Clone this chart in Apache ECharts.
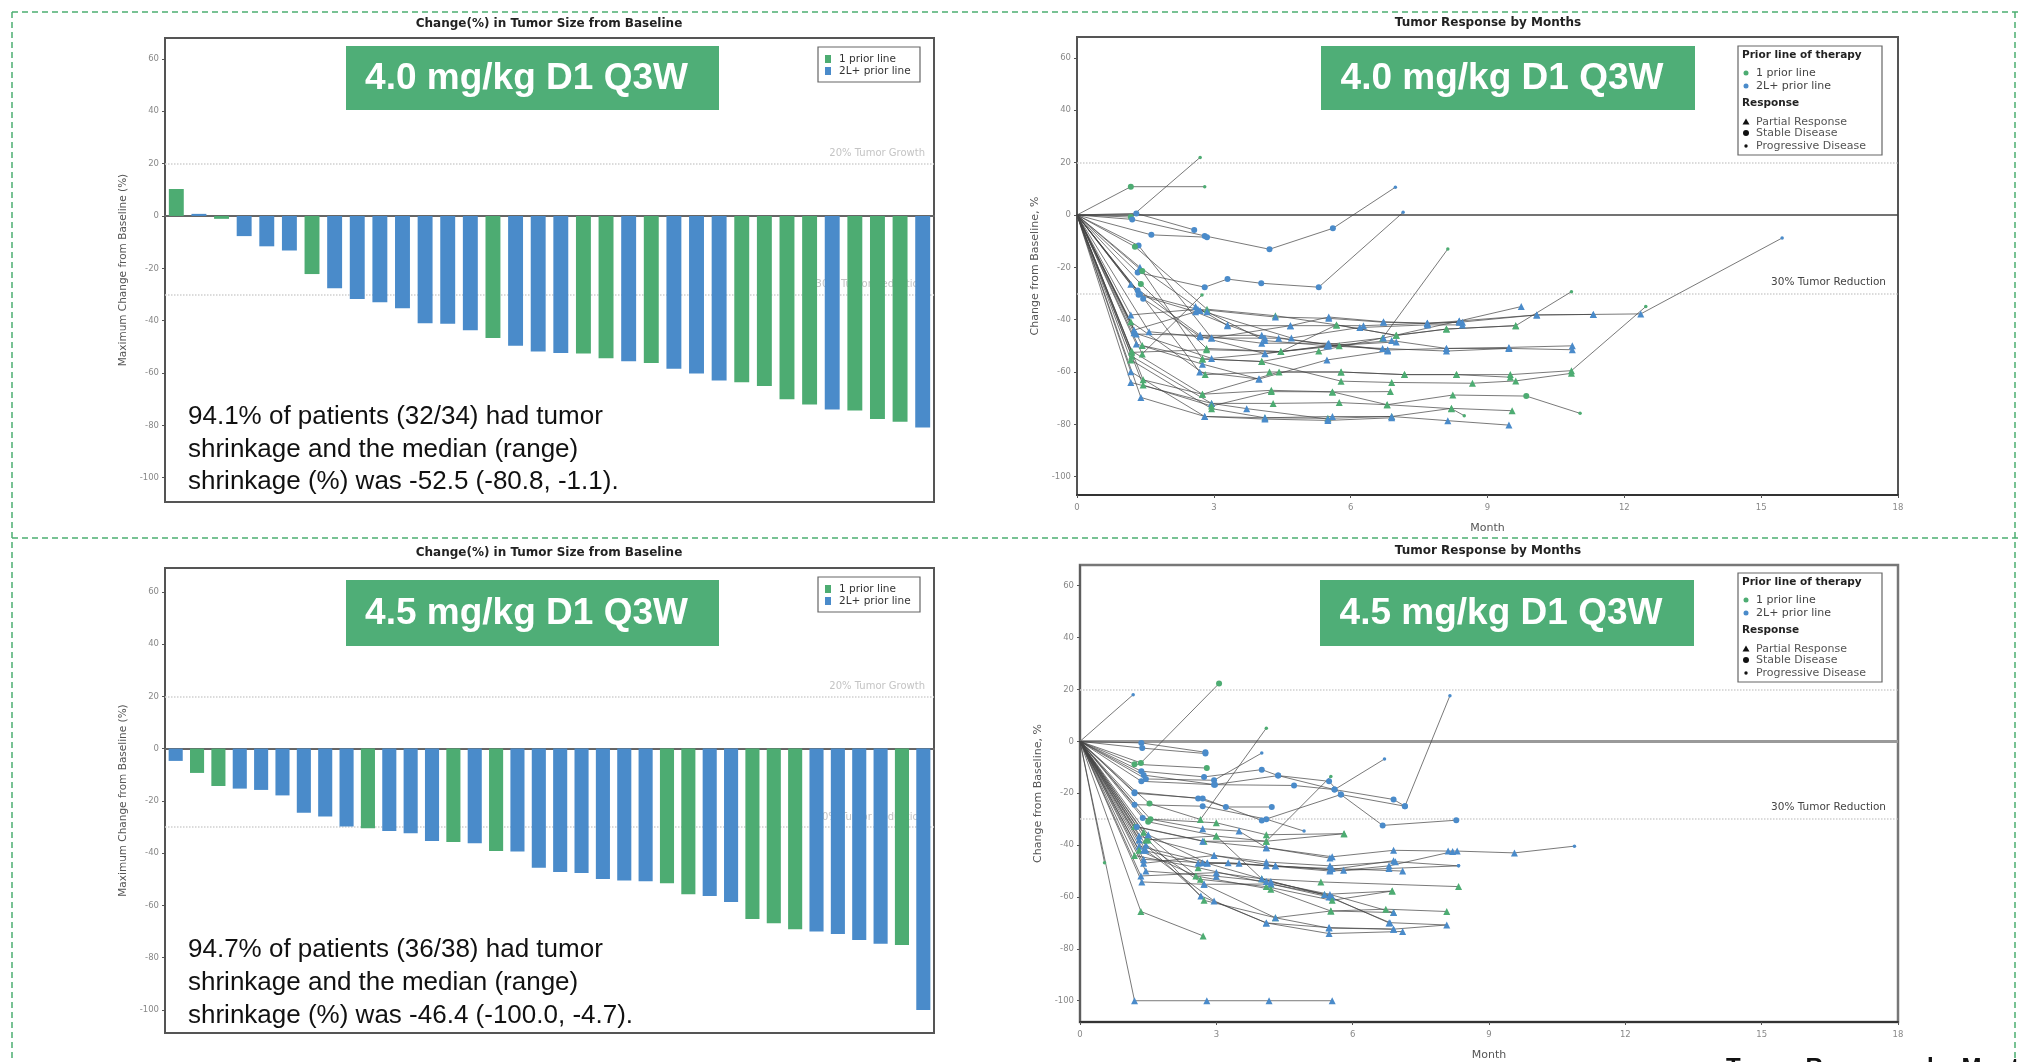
<!DOCTYPE html>
<html><head><meta charset="utf-8">
<script src="https://cdn.jsdelivr.net/npm/echarts/dist/echarts.min.js"></script>
<style>html,body{margin:0;padding:0;background:#fff}#c{width:2018px;height:1062px}</style>
</head><body><div id="c"></div>
<script>
// ---------- DATA ----------
const yTicks = [-100, -80, -60, -40, -20, 0, 20, 40, 60];
const monthTicks = [0, 3, 6, 9, 12, 15, 18];

// Waterfall, 4.0 mg/kg (34 patients)
const topBarValues = [10.3, 0.8, -1.1, -7.7, -11.6, -13.2, -22.2, -27.6, -31.7, -33.0, -35.3, -41.0, -41.2, -43.7, -46.6, -49.6, -51.8, -52.4, -52.6, -54.4, -55.5, -56.2, -58.4, -60.2, -62.9, -63.5, -65.0, -70.0, -72.0, -74.0, -74.3, -77.6, -78.6, -80.8];
const topBarLines = ['G','B','G','B','B','B','G','B','B','B','B','B','B','B','G','B','B','B','G','G','B','G','B','B','B','G','G','G','G','B','G','G','G','B'];

// Waterfall, 4.5 mg/kg (36 bars)
const botBarValues = [-4.7, -9.3, -14.3, -15.3, -15.8, -17.9, -24.5, -26.0, -29.8, -30.5, -31.5, -32.4, -35.3, -35.7, -36.2, -39.2, -39.4, -45.6, -47.2, -47.6, -49.9, -50.5, -50.7, -51.5, -55.7, -56.4, -58.7, -65.2, -66.8, -69.1, -70.0, -70.9, -73.2, -74.7, -75.1, -100.0];
const botBarLines = ['B','G','G','B','B','B','B','B','B','G','B','B','B','G','B','G','B','B','B','B','B','B','B','G','G','B','B','G','G','G','B','B','B','B','G','B'];

// Spider plots: [prior line, [[month, change %, response]]]  t=PR c=SD d=PD o=no marker
const spiderTop = [
 ['G', [[1.18,10.8,'c'],[2.8,10.8,'d']]],
 ['G', [[1.18,-0.8,'c'],[2.7,22,'d']]],
 ['B', [[1.21,-1.7,'c'],[2.8,-8,'c'],[4.22,-13.1,'c'],[5.61,-5.1,'c'],[6.98,10.6,'d']]],
 ['B', [[1.3,0.6,'c'],[2.57,-5.7,'c']]],
 ['B', [[1.63,-7.6,'c'],[2.85,-8.5,'c']]],
 ['B', [[1.35,-11.7,'c'],[2.95,-47,'t'],[4.42,-47.1,'t'],[5.5,-49.5,'t'],[6.81,-51.6,'t'],[8.1,-51,'t'],[9.47,-50.6,'t'],[10.86,-50,'t']]],
 ['G', [[1.27,-12.1,'c'],[2.85,-36,'t'],[4.35,-38.5,'t'],[5.69,-42,'t'],[7.0,-46,'t'],[8.1,-43.6,'t'],[9.62,-42.3,'t'],[10.84,-29.3,'d']]],
 ['B', [[1.38,-20,'t'],[2.6,-35,'t'],[3.3,-42.3,'t'],[4.68,-42.3,'t'],[5.52,-39,'t'],[6.72,-40.8,'t'],[7.68,-41.4,'t'],[8.38,-40.5,'t'],[9.74,-35,'t']]],
 ['B', [[1.33,-22,'c'],[2.8,-27.6,'c'],[3.3,-24.5,'c'],[4.04,-26.1,'c'],[5.3,-27.6,'c'],[7.15,1,'d']]],
 ['G', [[1.43,-21.4,'c'],[2.75,-55,'t'],[4.05,-56,'t'],[5.3,-52,'t'],[6.7,-47,'t'],[8.13,-13,'d']]],
 ['B', [[1.18,-26.5,'t'],[2.7,-46,'t'],[4.05,-46,'t'],[5.5,-49.5,'t'],[6.72,-47,'t'],[8.38,-40.5,'t'],[10.08,-38.2,'t'],[11.32,-38,'t'],[12.36,-37.8,'t'],[15.46,-8.8,'d']]],
 ['G', [[1.4,-26.4,'c'],[2.84,-51,'t'],[4.47,-52.2,'t'],[5.75,-50,'t']]],
 ['B', [[1.33,-28.9,'c'],[2.69,-60,'t'],[3.99,-62.7,'t'],[5.48,-55.4,'t'],[6.81,-52,'t']]],
 ['B', [[1.38,-30.3,'c'],[2.85,-37,'t'],[4.12,-48,'t'],[5.5,-50,'t'],[6.9,-48,'t'],[8.1,-51,'t'],[9.47,-51,'t'],[10.86,-51.5,'t']]],
 ['B', [[1.45,-32,'c'],[2.7,-46.5,'t'],[4.12,-53,'t'],[5.52,-50,'t'],[7.0,-48.5,'t']]],
 ['B', [[1.18,-38.2,'t'],[2.65,-36,'t'],[4.35,-39,'t'],[5.52,-39.5,'t'],[6.72,-41,'t'],[7.68,-41.4,'t'],[8.38,-41,'t'],[10.08,-38.2,'t'],[11.32,-38,'t']]],
 ['G', [[1.18,-40.8,'t'],[2.81,-61,'t'],[4.22,-60,'t'],[5.79,-60,'t'],[7.18,-61,'t'],[8.32,-61,'t'],[9.5,-61,'t'],[10.84,-59.5,'t'],[12.47,-35,'d']]],
 ['B', [[1.25,-45,'t'],[2.95,-54.8,'t'],[4.12,-52.9,'t'],[5.48,-50,'t'],[6.7,-51,'t'],[8.1,-52,'t'],[9.47,-51,'t']]],
 ['B', [[1.3,-45.5,'t'],[2.7,-46,'t'],[4.05,-49,'t'],[5.52,-49,'t'],[6.81,-51.6,'t']]],
 ['B', [[1.58,-44.6,'t'],[2.95,-47,'t'],[4.68,-42.3,'t'],[6.28,-42.3,'t'],[7.68,-41.4,'t'],[8.45,-41,'t']]],
 ['B', [[1.3,-49.3,'t'],[2.75,-57,'t'],[3.99,-62.7,'t']]],
 ['G', [[1.43,-49.9,'t'],[2.75,-55,'t'],[4.05,-56,'t'],[5.79,-63.5,'t'],[6.9,-64,'t'],[8.67,-64.3,'t'],[9.62,-63.4,'t'],[10.84,-60.5,'t']]],
 ['G', [[1.2,-52,'t'],[2.75,-68.5,'t'],[4.26,-67,'t'],[5.6,-67.6,'t'],[6.87,-67.5,'t']]],
 ['G', [[1.2,-54,'t'],[2.95,-72,'t'],[4.3,-72,'t'],[5.75,-71.7,'t'],[6.8,-72.5,'t'],[8.24,-68.8,'t'],[9.85,-69.2,'c'],[11.03,-75.8,'d']]],
 ['G', [[1.18,-55.4,'t'],[2.95,-74,'t'],[4.12,-77.5,'t'],[5.5,-77.7,'t'],[6.9,-77,'t'],[8.21,-73.9,'t'],[9.54,-74.8,'t']]],
 ['B', [[1.18,-59.9,'t'],[2.8,-77,'t'],[4.12,-77.5,'t'],[5.6,-77,'t'],[6.9,-77,'t'],[8.13,-78.6,'t'],[9.47,-80.3,'t']]],
 ['B', [[1.18,-64,'t'],[2.95,-72,'t'],[3.72,-74,'t'],[5.5,-78,'t']]],
 ['G', [[1.45,-63,'t'],[2.75,-68.5,'t'],[4.43,-60,'t'],[5.79,-60,'t'],[7.18,-61,'t'],[8.32,-61,'t'],[9.5,-62,'t']]],
 ['G', [[1.45,-65,'t'],[2.95,-73,'t'],[4.26,-67.5,'t'],[5.6,-67.6,'t'],[6.8,-72.5,'t'],[8.21,-74,'t'],[8.49,-76.7,'d']]],
 ['B', [[1.4,-69.7,'t'],[2.8,-77,'t'],[4.12,-78,'t'],[5.5,-78.5,'t'],[6.9,-77.5,'t']]],
 ['G', [[1.43,-53.1,'t'],[2.74,-30.6,'d']]],
 ['G', [[1.2,-52.5,'t'],[2.84,-51.5,'t'],[4.47,-52.2,'t'],[5.69,-42,'t'],[7.0,-46,'t'],[8.1,-43.6,'t'],[9.62,-42.3,'t']]],
 ['B', [[1.25,-44,'t'],[2.7,-36.5,'t'],[4.7,-47,'t'],[6.2,-43,'t'],[7.68,-42,'t'],[8.45,-42,'t']]],
 ['B', [[1.35,-30.5,'c'],[2.6,-37,'t'],[3.3,-42,'t'],[4.12,-47,'t']]]
];

const spiderBottom = [
 ['B', [[1.2,-100,'t'],[2.79,-100,'t'],[4.16,-100,'t'],[5.55,-100,'t']]],
 ['G', [[0.54,-46.8,'d']]],
 ['B', [[1.17,18,'d']]],
 ['G', [[1.34,-8.3,'c'],[3.06,22.3,'c']]],
 ['B', [[1.35,-0.6,'c'],[2.76,-4.2,'c']]],
 ['B', [[1.37,-2.6,'c'],[2.76,-4.7,'c']]],
 ['G', [[1.2,-8.8,'c'],[2.79,-10.3,'c']]],
 ['B', [[1.35,-11.5,'c'],[2.73,-13.7,'c'],[4.0,-10.9,'c'],[4.36,-13.2,'c'],[5.48,-15.4,'c'],[5.74,-20.5,'c'],[6.66,-32.4,'c'],[8.28,-30.4,'c']]],
 ['B', [[1.4,-13,'c'],[2.97,-16.7,'c'],[4.71,-17,'c'],[5.6,-18.6,'c'],[6.9,-22.4,'c'],[7.15,-25,'c'],[8.14,17.6,'d']]],
 ['B', [[1.45,-14.5,'c'],[2.95,-15,'c'],[4.0,-4.5,'d']]],
 ['G', [[1.53,-24,'c'],[2.65,-30.1,'t'],[4.1,5.1,'d']]],
 ['B', [[1.2,-19.6,'c'],[2.6,-22,'c'],[3.21,-25.3,'c'],[4.22,-25.3,'c']]],
 ['B', [[1.2,-24.4,'c'],[2.7,-25,'c'],[4.1,-30,'c'],[4.93,-34.6,'d']]],
 ['G', [[1.55,-30,'c'],[3.0,-31.4,'t'],[4.1,-36,'t'],[5.81,-35.6,'t']]],
 ['G', [[1.2,-32.7,'t'],[2.73,-38.5,'t'],[4.1,-38.5,'t'],[5.52,-13.5,'d']]],
 ['B', [[1.38,-29.5,'c'],[2.7,-33.7,'t'],[3.5,-34.6,'t'],[4.1,-41,'t'],[5.55,-44.5,'t'],[6.9,-42,'t'],[8.1,-42.3,'t'],[8.3,-42.3,'t'],[9.56,-43,'t'],[10.88,-40.4,'d']]],
 ['B', [[1.3,-36.5,'t'],[2.95,-44,'t'],[4.1,-46.5,'t'],[5.5,-48,'t'],[6.94,-46.4,'t'],[8.33,-48,'d']]],
 ['G', [[1.45,-38,'t'],[3.0,-36.5,'t'],[4.0,-53,'t'],[5.3,-54.2,'t'],[8.33,-56,'t']]],
 ['B', [[1.3,-40.4,'t'],[2.8,-46.8,'t'],[4.3,-48,'t'],[5.8,-49.7,'t'],[6.8,-48,'t'],[8.2,-42.5,'t']]],
 ['G', [[1.2,-44,'t'],[2.6,-48.7,'t'],[4.2,-55,'t'],[5.38,-59,'t'],[6.87,-57.7,'t']]],
 ['B', [[1.4,-45.5,'t'],[2.7,-46.8,'t'],[3.26,-46.8,'t'],[4.1,-48,'t'],[5.55,-49,'t'],[7.1,-50,'t']]],
 ['B', [[1.4,-47,'t'],[2.95,-44,'t'],[4.3,-48,'t'],[5.5,-49.5,'t'],[6.9,-46,'t']]],
 ['B', [[1.34,-51.9,'t'],[3.0,-50.6,'t'],[4.0,-53,'t'],[5.55,-60,'t']]],
 ['B', [[1.36,-54.2,'t'],[2.73,-55.1,'t'],[4.2,-55,'t'],[5.48,-60,'t'],[6.82,-69.9,'t'],[8.07,-70.8,'o']]],
 ['G', [[1.3,-42,'t'],[2.55,-51.9,'t'],[4.2,-57,'t'],[5.52,-65.4,'t'],[6.73,-64.7,'t'],[8.07,-65.6,'t']]],
 ['G', [[1.4,-35,'t'],[2.65,-53.2,'t'],[4.1,-56,'t'],[5.55,-61.3,'t'],[6.87,-57.7,'t']]],
 ['B', [[1.45,-40,'t'],[2.66,-59.6,'t'],[4.1,-70,'t'],[5.48,-71.8,'t'],[6.9,-72.4,'t']]],
 ['G', [[1.5,-38,'t'],[2.73,-61.3,'t'],[4.3,-68,'t'],[5.52,-65.4,'t'],[6.9,-66,'t']]],
 ['B', [[1.45,-42,'t'],[2.95,-61.5,'t'],[4.1,-70,'t'],[5.48,-74.1,'t'],[7.1,-73.3,'t']]],
 ['G', [[1.34,-65.6,'t'],[2.71,-75,'t']]],
 ['B', [[1.25,-33,'c'],[2.7,-38.5,'t'],[4.1,-41,'t'],[5.5,-45,'t']]],
 ['B', [[1.5,-36,'t'],[2.8,-47,'t'],[4.2,-54,'t'],[5.38,-59,'t'],[6.8,-70,'t']]],
 ['G', [[1.5,-31,'c'],[3.0,-36.5,'t'],[4.1,-38.5,'t'],[5.81,-35.6,'t']]],
 ['B', [[1.4,-42,'t'],[2.6,-47,'t'],[3.5,-47,'t'],[5.5,-50,'t'],[6.8,-49,'t'],[8.33,-48,'d']]],
 ['B', [[1.35,-15.4,'c'],[2.95,-16.7,'c'],[4.36,-13.2,'c'],[5.6,-18.6,'c'],[6.7,-6.8,'d']]],
 ['B', [[1.3,-38,'t'],[2.73,-55.1,'t'],[4.3,-68,'t'],[5.48,-72,'t'],[6.9,-72.4,'t'],[8.07,-70.8,'t']]],
 ['B', [[1.2,-20,'c'],[2.7,-22,'c'],[4.0,-30.5,'c'],[5.74,-20.5,'c'],[7.15,-25,'c']]],
 ['B', [[1.45,-50,'t'],[3.0,-52,'t'],[4.1,-54,'t'],[5.5,-59,'t'],[6.9,-66,'t']]]
];

const doseLabels = ['4.0 mg/kg D1 Q3W', '4.5 mg/kg D1 Q3W'];
const summaryTop = ['94.1% of patients (32/34) had tumor', 'shrinkage and the median (range)', 'shrinkage (%) was -52.5 (-80.8, -1.1).'];
const summaryBot = ['94.7% of patients (36/38) had tumor', 'shrinkage and the median (range)', 'shrinkage (%) was -46.4 (-100.0, -4.7).'];
const footerText = 'Tumor Response by Months';

// ---------- STYLE ----------
const GREEN = '#4dac72', BLUE = '#4a8bca', BOXGREEN = '#4fae77';
const SMALL = 'DejaVu Sans', BIG = 'Liberation Sans';
const col = c => c === 'G' ? GREEN : BLUE;

const chart = echarts.init(document.getElementById('c'), null, {renderer: 'canvas'});

function yAxis(grid, min, max, name, gap, nameSize) {
  return {
    type: 'value', gridIndex: grid, min: min, max: max,
    axisLine: {show: true, lineStyle: {color: '#555', width: 1.5}},
    axisTick: {show: true, length: 3, customValues: yTicks, lineStyle: {color: '#555'}},
    axisLabel: {customValues: yTicks, fontSize: 8.5, color: '#888', fontFamily: SMALL, margin: 6},
    splitLine: {show: false},
    name: name, nameLocation: 'middle', nameRotate: 90, nameGap: gap,
    nameTextStyle: {fontSize: nameSize, color: '#555', fontFamily: SMALL}
  };
}
function catAxis(grid, n) {
  return {type: 'category', gridIndex: grid, data: Array.from({length: n}, (_, i) => 'P' + (i + 1)),
    axisLine: {onZero: true, lineStyle: {color: '#666', width: 2}}, axisTick: {show: false}, axisLabel: {show: false}};
}
function monthAxis(grid) {
  return {type: 'value', gridIndex: grid, min: 0, max: 18, interval: 3,
    axisLine: {onZero: false, lineStyle: {color: '#333', width: 2}},
    axisTick: {show: true, length: 3, lineStyle: {color: '#555'}},
    axisLabel: {fontSize: 8.5, color: '#888', fontFamily: SMALL, margin: 8},
    splitLine: {show: false},
    name: 'Month', nameLocation: 'middle', nameGap: 28,
    nameTextStyle: {fontSize: 11, color: '#555', fontFamily: SMALL}};
}
function barSeries(idx, vals, lines) {
  return {
    type: 'bar', xAxisIndex: idx, yAxisIndex: idx, barWidth: '66%', z: 2, silent: true,
    data: vals.map((v, i) => ({value: v, itemStyle: {color: col(lines[i])}})),
    markLine: {
      silent: true, symbol: 'none', z: 1,
      lineStyle: {type: 'dotted', color: '#cfcfcf', width: 1.5},
      label: {position: 'insideEndTop', color: '#c4c4c4', fontSize: 10, fontFamily: SMALL, distance: [9, 5]},
      data: [{yAxis: 20, label: {formatter: '20% Tumor Growth'}}, {yAxis: -30, label: {formatter: '30% Tumor Reduction'}}]
    }
  };
}
function spiderSeries(idx, paths, zeroColor, zeroWidth) {
  return paths.map((p, k) => {
    const s = {
      type: 'line', xAxisIndex: idx, yAxisIndex: idx, silent: true, z: 3,
      data: [[0, 0, 'o']].concat(p[1]),
      showAllSymbol: true,
      symbol: v => v[2] === 't' ? 'triangle' : (v[2] === 'o' ? 'none' : 'circle'),
      symbolSize: v => v[2] === 't' ? 7 : (v[2] === 'c' ? 6 : 3.5),
      itemStyle: {color: col(p[0])},
      lineStyle: {color: '#444', width: 0.85, opacity: 0.85}
    };
    if (k === 0) {
      s.markLine = {
        silent: true, symbol: 'none', z: 1,
        data: [
          {yAxis: 0, lineStyle: {type: 'solid', color: zeroColor, width: zeroWidth}, label: {show: false}},
          {yAxis: 20, lineStyle: {type: 'dotted', color: '#cfcfcf', width: 1.5}, label: {show: false}},
          {yAxis: -30, lineStyle: {type: 'dotted', color: '#cfcfcf', width: 1.5},
           label: {show: true, formatter: '30% Tumor Reduction', position: 'insideEndTop', color: '#444', fontSize: 10.5, fontFamily: SMALL, distance: [12, 6]}}
        ]
      };
    }
    return s;
  });
}

const grids = [
  {left: 165, top: 38, width: 769, height: 464},
  {left: 165, top: 568, width: 769, height: 465},
  {left: 1077, top: 37, width: 821, height: 458},
  {left: 1080, top: 565, width: 818, height: 458}
].map((g, i) => Object.assign(g, {show: true, borderColor: i === 3 ? '#777' : '#555', borderWidth: i === 3 ? 2.5 : 2, backgroundColor: '#fff'}));

// ---------- GRAPHICS (frames, titles, labels, legends) ----------
const G = [];
const dash = {stroke: '#4caf72', lineWidth: 1.5, lineDash: [6, 4]};
G.push({type: 'line', shape: {x1: 12, y1: 12, x2: 2018, y2: 12}, style: dash});
G.push({type: 'line', shape: {x1: 12, y1: 538, x2: 2018, y2: 538}, style: dash});
G.push({type: 'line', shape: {x1: 12, y1: 12, x2: 12, y2: 1062}, style: dash});
G.push({type: 'line', shape: {x1: 2015, y1: 12, x2: 2015, y2: 1062}, style: dash});

function txt(x, y, text, font, fill, align, valign) {
  return {type: 'text', x: x, y: y, z: 50, style: {text: text, font: font, fill: fill, align: align || 'left', verticalAlign: valign || 'middle'}};
}
// titles
G.push(txt(549, 24, 'Change(%) in Tumor Size from Baseline', 'bold 12px ' + SMALL, '#222', 'center'));
G.push(txt(549, 553, 'Change(%) in Tumor Size from Baseline', 'bold 12px ' + SMALL, '#222', 'center'));
G.push(txt(1488, 23, 'Tumor Response by Months', 'bold 12px ' + SMALL, '#222', 'center'));
G.push(txt(1488, 551, 'Tumor Response by Months', 'bold 12px ' + SMALL, '#222', 'center'));
// cropped heading at the bottom edge
G.push(txt(1726, 1056, footerText, 'bold 24px ' + BIG, '#111', 'left', 'top'));

// dose label boxes
function doseBox(x1, y1, x2, y2, label) {
  G.push({type: 'rect', z: 40, shape: {x: x1, y: y1, width: x2 - x1, height: y2 - y1}, style: {fill: BOXGREEN}});
  G.push(txt((x1 + x2) / 2 - 6, (y1 + y2) / 2 + 1, label, 'bold 37px ' + BIG, '#fff', 'center'));
}
doseBox(346, 46, 719, 110, doseLabels[0]);
doseBox(1321, 46, 1695, 110, doseLabels[0]);
doseBox(346, 580, 719, 646, doseLabels[1]);
doseBox(1320, 580, 1694, 646, doseLabels[1]);

// summary text
[[summaryTop, [417, 449.5, 482]], [summaryBot, [950, 983, 1016]]].forEach(([lines, ys]) => {
  lines.forEach((l, i) => G.push(txt(188, ys[i], l, '26px ' + BIG, '#111')));
});

// bar legends
function barLegend(top) {
  G.push({type: 'rect', z: 40, shape: {x: 818, y: top, width: 102, height: 35}, style: {fill: '#fff', stroke: '#666', lineWidth: 1.2}});
  G.push({type: 'rect', z: 41, shape: {x: 825, y: top + 8, width: 6, height: 8}, style: {fill: GREEN}});
  G.push({type: 'rect', z: 41, shape: {x: 825, y: top + 20, width: 6, height: 8}, style: {fill: BLUE}});
  G.push(txt(839, top + 12, '1 prior line', '10.5px ' + SMALL, '#333'));
  G.push(txt(839, top + 24, '2L+ prior line', '10.5px ' + SMALL, '#333'));
}
barLegend(47);
barLegend(577);

// spider legends
function spiderLegend(top) {
  const o = top - 46;
  G.push({type: 'rect', z: 40, shape: {x: 1738, y: top, width: 144, height: 109}, style: {fill: '#fff', stroke: '#666', lineWidth: 1.2}});
  G.push(txt(1742, 55 + o, 'Prior line of therapy', 'bold 10.5px ' + SMALL, '#222'));
  G.push({type: 'circle', z: 41, shape: {cx: 1746, cy: 73 + o, r: 2.5}, style: {fill: GREEN}});
  G.push({type: 'circle', z: 41, shape: {cx: 1746, cy: 86 + o, r: 2.5}, style: {fill: BLUE}});
  G.push(txt(1756, 73 + o, '1 prior line', '11px ' + SMALL, '#444'));
  G.push(txt(1756, 86 + o, '2L+ prior line', '11px ' + SMALL, '#444'));
  G.push(txt(1742, 103 + o, 'Response', 'bold 10.5px ' + SMALL, '#222'));
  G.push({type: 'polygon', z: 41, shape: {points: [[1746, 118.5 + o], [1749.5, 124.5 + o], [1742.5, 124.5 + o]]}, style: {fill: '#111'}});
  G.push({type: 'circle', z: 41, shape: {cx: 1746, cy: 133 + o, r: 3}, style: {fill: '#111'}});
  G.push({type: 'circle', z: 41, shape: {cx: 1746, cy: 146 + o, r: 1.7}, style: {fill: '#111'}});
  G.push(txt(1756, 122 + o, 'Partial Response', '11px ' + SMALL, '#555'));
  G.push(txt(1756, 133.5 + o, 'Stable Disease', '11px ' + SMALL, '#555'));
  G.push(txt(1756, 146 + o, 'Progressive Disease', '11px ' + SMALL, '#555'));
}
spiderLegend(46);
spiderLegend(573);

const option = {
  animation: false,
  textStyle: {fontFamily: SMALL},
  grid: grids,
  xAxis: [catAxis(0, topBarValues.length), catAxis(1, botBarValues.length), monthAxis(2), monthAxis(3)],
  yAxis: [
    yAxis(0, -109.3, 68, 'Maximum Change from Baseline (%)', 36, 10.5),
    yAxis(1, -108.8, 69.1, 'Maximum Change from Baseline (%)', 36, 10.5),
    yAxis(2, -107, 68, 'Change from Baseline, %', 36, 11),
    yAxis(3, -108.2, 68, 'Change from Baseline, %', 36, 11)
  ],
  series: [
    barSeries(0, topBarValues, topBarLines),
    barSeries(1, botBarValues, botBarLines)
  ].concat(spiderSeries(2, spiderTop, '#444', 1.5), spiderSeries(3, spiderBottom, '#9a9a9a', 3)),
  graphic: {elements: G}
};
chart.setOption(option);
</script></body></html>
